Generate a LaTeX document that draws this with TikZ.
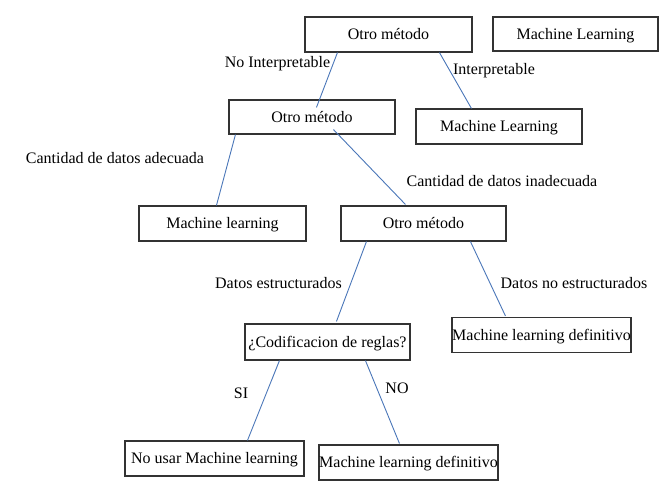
\documentclass[tikz,border=0pt]{standalone}
\usepackage{fontspec}
\setmainfont{Liberation Serif}
\usetikzlibrary{calc}
\definecolor{linkblue}{HTML}{4A76B8}
\definecolor{boxline}{HTML}{333333}
\tikzset{
  box/.style={draw=boxline, line width=1.1pt, fill=white, rectangle, inner sep=0pt,
    minimum height=34pt, text height=14pt, text depth=3.4pt,
    font=\fontsize{16}{19}\selectfont},
  lbl/.style={inner sep=0pt, anchor=base, font=\fontsize{16}{19}\selectfont},
  link/.style={draw=linkblue, line width=0.9pt}
}
\begin{document}
\begin{tikzpicture}[x=1pt,y=-1pt]
\useasboundingbox (0,0) rectangle (670,499);
% boxes
\node[box, minimum width=167pt, minimum height=35pt] (o1)   at (388.5,34.5)  {Otro método};
\node[box, minimum width=165pt] (mlT)  at (575.5,34)  {Machine Learning};
\node[box, minimum width=166pt] (o2)   at (312,117)   {Otro método};
\node[box, minimum width=166pt, minimum height=35pt] (ml2)  at (499,126.5) {Machine Learning};
\node[box, minimum width=167pt, minimum height=35pt] (mlA)  at (222.5,223.5) {Machine learning};
\node[box, minimum width=165pt, minimum height=35pt] (o3)   at (423.5,223.5) {Otro método};
\node[box, minimum width=165pt, minimum height=36pt] (cod)  at (327.5,342) {¿Codificacion de reglas?};
\node[box, minimum width=179pt, minimum height=35pt] (mlDR) at (541.5,335)  {Machine learning definitivo};
\node[box, minimum width=179pt, minimum height=35pt] (nu)   at (214.5,458.5) {No usar Machine learning};
\node[box, minimum width=179pt, minimum height=35pt] (mlDB) at (408.5,462.5) {Machine learning definitivo};
% connectors
\draw[link] ($(o1.south west)+(33,0)$) -- ($(o2.north west)+(88,8)$);
\draw[link] ($(o1.south west)+(135,0)$) -- ($(ml2.north west)+(56,0)$);
\draw[link] ($(o2.south west)+(7,0)$) -- ($(mlA.north west)+(78,0)$);
\draw[link] ($(o2.south west)+(105,-5)$) -- ($(o3.north west)+(65,-1)$);
\draw[link] ($(o3.south west)+(26,0)$) -- ($(cod.north west)+(92,-2)$);
\draw[link] ($(o3.south west)+(130,0)$) -- ($(mlDR.north west)+(54,-1)$);
\draw[link] ($(cod.south west)+(35,0)$) -- ($(nu.north west)+(123,0)$);
\draw[link] ($(cod.south west)+(121,0)$) -- ($(mlDB.north west)+(81,-1)$);
% labels
\node[lbl] (l1) at (277.5,67) {No Interpretable};
\node[lbl] (l2) at (494,74) {Interpretable};
\node[lbl] (l3) at (115,163) {Cantidad de datos adecuada};
\node[lbl] (l4) at (502,186) {Cantidad de datos inadecuada};
\node[lbl] (l5) at (278.5,288) {Datos estructurados};
\node[lbl] (l6) at (574,288) {Datos no estructurados};
\node[lbl] (l7) at (241,398) {SI};
\node[lbl] (l8) at (397,393) {NO};
\end{tikzpicture}
\end{document}
